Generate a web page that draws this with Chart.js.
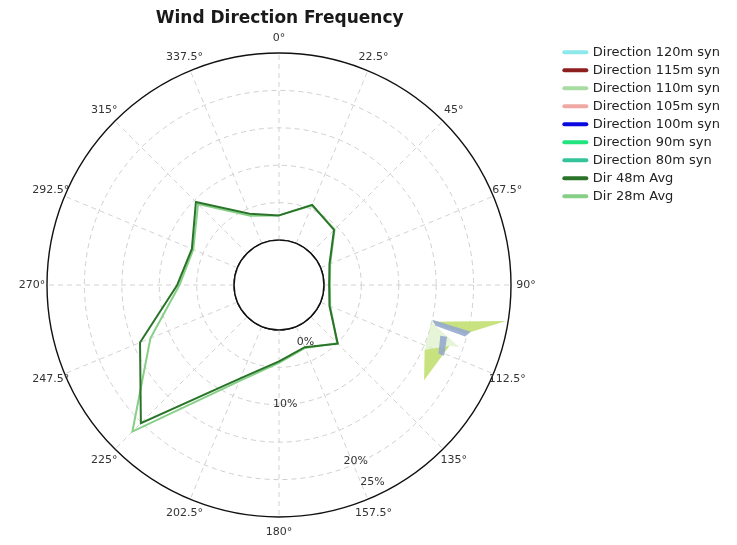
<!DOCTYPE html>
<html>
<head>
<meta charset="utf-8">
<script src="https://cdn.jsdelivr.net/npm/chart.js@4.4.1/dist/chart.umd.min.js"></script>
<style>
  html, body { margin: 0; padding: 0; background: #ffffff; }
  #wrap { width: 737px; height: 545px; }
</style>
</head>
<body>
<div id="wrap"><canvas id="c" width="737" height="545"></canvas></div>
<script>
// Compass sectors (degrees clockwise from north)
const directions = ['0°', '22.5°', '45°', '67.5°', '90°', '112.5°', '135°', '157.5°',
                    '180°', '202.5°', '225°', '247.5°', '270°', '292.5°', '315°', '337.5°'];

// Frequency of wind from each sector, percent
const dir48mAvg = [3.3, 5.6, 4.4, 1.3, 0.7, 1.3, 5.1, 3.0, 4.2, 7.5, 20.1, 14.1, 7.6, 6.6, 9.7, 4.3];
const dir28mAvg = [3.3, 5.5, 4.5, 1.4, 0.8, 1.4, 5.0, 3.1, 4.4, 7.9, 21.7, 12.6, 7.3, 6.4, 9.3, 4.0];

// Synthesised heights (listed in the key)
const synNames  = ['Direction 120m syn', 'Direction 115m syn', 'Direction 110m syn', 'Direction 105m syn',
                   'Direction 100m syn', 'Direction 90m syn', 'Direction 80m syn'];
const synColors = ['#8ce8ea', '#8e1f1f', '#a9dca2', '#efa9a2', '#0a0ae0', '#22e47e', '#34c49c'];

// Radial axis
const radialMin = -6;
const radialMax = 25;
const radialTickValues = [0, 5, 10, 15, 20, 25];
const radialLabelValues = [0, 10, 20, 25];
const radialLabels = ['0%', '10%', '20%', '25%'];

// Overlapping syn sectors east-south-east: vertices as [direction°, percent]
const synPatchA = [[103.6, 14.9], [99.0, 24.7], [104.7, 19.7]];
const synPatchB = [[114.0, 15.3], [109.6, 18.2], [123.3, 17.2]];
const synPatchC = [[102.8, 15.0], [103.7, 20.4], [105.5, 19.8], [104.6, 15.6]];
const synPatchD = [[107.5, 16.6], [107.1, 17.5], [113.2, 18.0], [113.3, 17.2]];
const synPatchE = [[103.6, 14.9], [109.0, 19.5], [109.6, 18.2], [114.0, 15.3]];

const FONT = "'DejaVu Sans', sans-serif";
const sectorStep = 360 / directions.length;

// Label placement for the radial percentages (direction°, pixel nudge)
const radialLabelDir = [155, 177, 156.5, 154.6];
const radialLabelNudge = [18, 0, -2, -14];
// Compass labels sit centred this far outside the rim
const compassLabelGap = 15;

const datasets = synNames.map((name, i) => ({
  label: name,
  data: directions.map(() => null),
  borderColor: synColors[i],
  backgroundColor: synColors[i],
  borderWidth: 2,
  pointRadius: 0,
  fill: false
}));
datasets.push({
  label: 'Dir 48m Avg', data: dir48mAvg,
  borderColor: '#2a742a', backgroundColor: '#2a742a',
  borderWidth: 2, pointRadius: 0, fill: false
});
datasets.push({
  label: 'Dir 28m Avg', data: dir28mAvg,
  borderColor: '#86cf86', backgroundColor: '#86cf86',
  borderWidth: 2, pointRadius: 0, fill: false
});

const isEdge = v => v === radialTickValues[0] || v === radialTickValues[radialTickValues.length - 1];

function polyPath(ctx, scale, pts) {
  ctx.beginPath();
  pts.forEach(([deg, pct], k) => {
    const p = scale.getPointPositionForValue(deg / sectorStep, pct);
    if (k === 0) ctx.moveTo(p.x, p.y); else ctx.lineTo(p.x, p.y);
  });
  ctx.closePath();
}

const roseExtras = {
  id: 'roseExtras',
  beforeDatasetsDraw(chart) {
    const scale = chart.scales.r;
    const ctx = chart.ctx;
    ctx.save();
    // calm hole in the middle
    const r0 = scale.getDistanceFromCenterForValue(0);
    ctx.beginPath();
    ctx.arc(scale.xCenter, scale.yCenter, r0, 0, Math.PI * 2);
    ctx.fillStyle = '#ffffff';
    ctx.fill();
    ctx.lineWidth = 1.4;
    ctx.strokeStyle = '#111111';
    ctx.setLineDash([]);
    ctx.stroke();

    // syn sectors
    const fills = [
      [synPatchA, 'rgba(196,224,120,0.95)'],
      [synPatchB, 'rgba(196,224,120,0.95)'],
      [synPatchE, 'rgba(214,236,190,0.6)'],
      [synPatchC, 'rgba(150,170,206,0.9)'],
      [synPatchD, 'rgba(150,170,206,0.9)']
    ];
    fills.forEach(([pts, col]) => {
      polyPath(ctx, scale, pts);
      ctx.fillStyle = col;
      ctx.fill();
    });

    ctx.textAlign = 'center';
    ctx.textBaseline = 'middle';
    ctx.font = '11px ' + FONT;

    // compass labels round the rim
    ctx.fillStyle = '#333333';
    const rim = scale.getDistanceFromCenterForValue(radialMax) + compassLabelGap;
    directions.forEach((txt, i) => {
      const p = scale.getPointPosition(i, rim);
      ctx.fillText(txt, p.x, p.y);
    });

    // radial percentages
    radialLabels.forEach((txt, i) => {
      const d = scale.getDistanceFromCenterForValue(radialLabelValues[i]) + radialLabelNudge[i];
      const p = scale.getPointPosition(radialLabelDir[i] / sectorStep, d);
      ctx.fillText(txt, p.x, p.y);
    });
    ctx.restore();
  }
};

new Chart(document.getElementById('c'), {
  type: 'radar',
  data: { labels: directions, datasets },
  options: {
    responsive: false,
    devicePixelRatio: 1,
    animation: false,
    layout: { padding: { left: 0, right: 7, top: 0, bottom: 27 } },
    elements: { line: { tension: 0 } },
    scales: {
      r: {
        min: radialMin,
        max: radialMax,
        afterBuildTicks: (scale) => { scale.ticks = radialTickValues.map(v => ({ value: v })); },
        ticks: { display: false },
        grid: {
          circular: true,
          color: (c) => (c.tick && isEdge(c.tick.value)) ? '#111111' : '#cfcfcf',
          lineWidth: (c) => (c.tick && isEdge(c.tick.value)) ? 1.4 : 1
        },
        border: {
          dash: (c) => (c.tick && isEdge(c.tick.value)) ? [] : [5, 4]
        },
        angleLines: { color: '#d2d2d2', lineWidth: 1, borderDash: [5, 4] },
        pointLabels: { display: false }
      }
    },
    plugins: {
      title: {
        display: true,
        text: 'Wind Direction Frequency',
        fullSize: false,
        color: '#1a1a1a',
        font: { family: FONT, size: 17, weight: 'bold' },
        padding: { top: 8, bottom: 24 }
      },
      legend: {
        position: 'right',
        align: 'start',
        title: { display: true, text: ' ', font: { size: 4 }, padding: { top: 36, bottom: 0 } },
        labels: {
          font: { family: FONT, size: 13 },
          color: '#222222',
          usePointStyle: true,
          pointStyleWidth: 22,
          boxHeight: 4,
          padding: 5,
          generateLabels: (chart) => chart.data.datasets.map((ds, i) => ({
            text: ds.label,
            datasetIndex: i,
            fillStyle: ds.borderColor,
            strokeStyle: ds.borderColor,
            lineWidth: 4,
            lineCap: 'round',
            pointStyle: 'line',
            hidden: false,
            fontColor: '#222222'
          }))
        }
      },
      tooltip: { enabled: false }
    }
  },
  plugins: [roseExtras]
});
</script>
</body>
</html>
